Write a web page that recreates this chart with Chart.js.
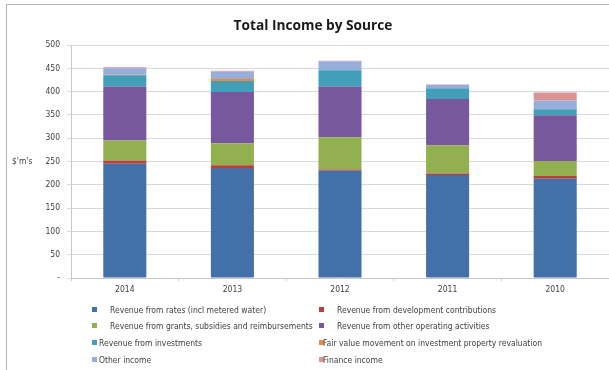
<!DOCTYPE html>
<html>
<head>
<meta charset="utf-8">
<script src="https://cdn.jsdelivr.net/npm/chart.js@4.4.1/dist/chart.umd.min.js"></script>
<style>
  html, body { margin: 0; padding: 0; background: #fff; }
  #wrap { position: relative; width: 609px; height: 370px; overflow: hidden; }
  #frame { position: absolute; left: 6px; top: 4px; width: 620px; height: 380px; border: 1px solid #b5b5b5; box-sizing: border-box; }
  #chart { position: absolute; left: 0; top: 0; }
  #title { position: absolute; left: 213px; width: 200px; top: 15px; text-align: center; font-family: "Open Sans", sans-serif; font-weight: bold; font-size: 13.7px; color: #1a1a1a; white-space: nowrap; }
  .lg { position: absolute; font-family: "Liberation Sans Narrow", "DejaVu Sans Condensed", sans-serif; font-size: 8.5px; color: #404040; white-space: nowrap; line-height: 10px; }
  .lg i { position: absolute; width: 5px; height: 5px; top: 2px; }
</style>
</head>
<body>
<div id="wrap">
  <div id="frame"></div>
  <canvas id="chart" width="609" height="370"></canvas>
  <div id="title">Total Income by Source</div>
  <div id="legend"></div>
</div>
<script>
const years = ['2014', '2013', '2012', '2011', '2010'];
const seriesNames = [
  'Revenue from rates (incl metered water)',
  'Revenue from development contributions',
  'Revenue from grants, subsidies and reimbursements',
  'Revenue from other operating activities',
  'Revenue from investments',
  'Fair value movement on investment property revaluation',
  'Other income',
  'Finance income'
];
const rates = [245, 236, 230, 221, 213];
const devContributions = [7, 6, 3, 3, 6];
const grants = [43, 47, 69, 61, 32];
const otherOperating = [116, 110, 109, 99, 98];
const investments = [24, 24, 35, 23, 13];
const fairValue = [1, 4, 0, 0, 0];
const otherIncome = [14, 16, 19, 7, 19];
const financeIncome = [2, 2, 1, 1, 17];
const yTicks = [0, 50, 100, 150, 200, 250, 300, 350, 400, 450, 500];

const colors = ['#4470AA', '#B8403C', '#93B050', '#77589C', '#419FB9', '#EE8A3C', '#98AEDA', '#DB9394'];
const values = [rates, devContributions, grants, otherOperating, investments, fairValue, otherIncome, financeIncome];

// y axis caption drawn next to the 250 tick, like the Excel original
const yCaption = {
  id: 'yCaption',
  afterDraw(chart) {
    const c = chart.ctx;
    const y = chart.scales.y.getPixelForValue(250);
    c.save();
    c.font = '8.5px "Liberation Sans Narrow", "DejaVu Sans Condensed", sans-serif';
    c.fillStyle = '#404040';
    c.textBaseline = 'middle';
    c.fillText("$'m's", 12, y);
    c.restore();
  }
};

new Chart(document.getElementById('chart'), {
  type: 'bar',
  data: {
    labels: years,
    datasets: seriesNames.map((name, i) => ({
      label: name,
      data: values[i],
      backgroundColor: colors[i],
      borderWidth: 0,
      barPercentage: 0.8,
      categoryPercentage: 0.5
    }))
  },
  options: {
    responsive: false,
    animation: false,
    layout: { padding: { left: 0, right: 0, top: 45, bottom: 0 } },
    plugins: {
      legend: { display: false },
      tooltip: { enabled: false },
      title: { display: false }
    },
    scales: {
      x: {
        stacked: true,
        afterFit(s) { s.height = 92; },
        grid: { display: true, drawOnChartArea: false, offset: true, tickLength: 3, color: '#c8c8c8' },
        border: { color: '#c8c8c8' },
        ticks: { color: '#404040', padding: 4, font: { family: 'Liberation Sans Narrow, DejaVu Sans Condensed', size: 8.5 } }
      },
      y: {
        stacked: true,
        min: 0,
        max: 500,
        afterFit(s) { s.width = 71; },
        afterBuildTicks(s) { s.ticks = yTicks.map(v => ({ value: v })); },
        grid: { color: '#d9d9d9', tickLength: 4 },
        border: { color: '#c8c8c8' },
        ticks: {
          color: '#404040',
          padding: 7,
          font: { family: 'Liberation Sans Narrow, DejaVu Sans Condensed', size: 8.5 },
          callback: v => v === 0 ? '-' : v
        }
      }
    }
  },
  plugins: [yCaption]
});

// two-column legend below the plot: [marker x, text x]
const legendPos = [
  [92, 110], [319, 337],
  [92, 110], [319, 337],
  [92, 99], [319, 323],
  [92, 99], [319, 323]
];
const rowTop = [305, 321, 338, 355];
const legend = document.getElementById('legend');
seriesNames.forEach((name, i) => {
  const d = document.createElement('div');
  d.className = 'lg';
  d.style.left = legendPos[i][0] + 'px';
  d.style.top = rowTop[Math.floor(i / 2)] + 'px';
  d.innerHTML = '<i style="left:0;background:' + colors[i] + '"></i><span style="position:absolute;left:' +
    (legendPos[i][1] - legendPos[i][0]) + 'px">' + name + '</span>';
  legend.appendChild(d);
});
</script>
</body>
</html>
